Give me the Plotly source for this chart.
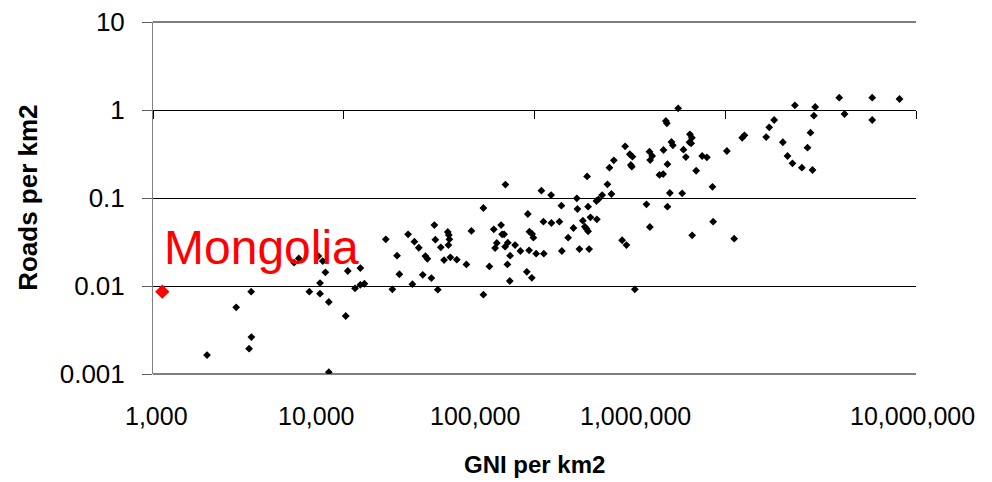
import math
import plotly.graph_objects as go

# ---- data (GNI per km2, roads per km2) ----
gni = [
    1920, 2730, 3190, 3280, 3270, 5490, 5810, 6600, 7360, 7760,
    7510, 7510, 8010, 8350, 8350, 10240, 10500, 11460, 12220, 12220,
    12830, 16610, 19030, 19570, 17980, 21740, 23460, 24740, 26790, 27440,
    22900, 25960, 28800, 31120, 29860, 30220, 32270, 33570, 35110, 35540,
    35790, 35370, 36220, 39140, 43950, 46700, 53970, 53970, 58010, 61170,
    63440, 62140, 66820, 67640, 69290, 70400, 70140, 72440, 74480, 72100,
    74210, 79100, 84350, 92250, 93690, 94030, 97160, 98700, 91140, 96800,
    102000, 111900, 108700, 111400, 122200, 122650, 135100, 138400, 139100, 150100,
    160000, 166700, 167950, 172000, 179200, 183600, 187200, 191000, 191000, 193400,
    188700, 196450, 212300, 211200, 216400, 226300, 241200, 253100, 247100, 260500,
    288000, 303400, 335700, 316100, 326200, 319900, 323800, 386300, 402500, 400600,
    404000, 413900, 474500, 451900, 472600, 497700, 512400, 497700, 298700, 566400,
    488300, 494200, 522400, 531300, 594500, 603900, 621700, 652500, 668400, 649300,
    662800, 703900, 756800, 801000, 857000, 670700, 864200, 1020000, 1114000, 1227000,
    1261000, 1639000, 1700000, 1805000, 2005000, 2120000, 2251000, 2522000, 2867000, 2318000,
    2699000, 2798000, 2916000, 2962000, 3958000, 4219000, 5894000, 5894000, 8196000,
]
roads = [
    0.00164, 0.00573, 0.00194, 0.00263, 0.00861, 0.0184, 0.0206, 0.00861, 0.0219, 0.0192,
    0.0108, 0.00817, 0.0143, 0.00658, 0.00105, 0.00456, 0.0148, 0.00942, 0.0160, 0.0103,
    0.0106, 0.0339, 0.0221, 0.0136, 0.00917, 0.0387, 0.0319, 0.0272, 0.0219, 0.0204,
    0.0105, 0.0134, 0.0123, 0.00908, 0.0493, 0.0336, 0.0275, 0.0197, 0.0411, 0.0380,
    0.0339, 0.0292, 0.0212, 0.0199, 0.0176, 0.0422, 0.0770, 0.00796, 0.0167, 0.0441,
    0.0308, 0.0270, 0.0493, 0.0387, 0.0387, 0.142, 0.0280, 0.0311, 0.0221, 0.0176,
    0.0114, 0.0292, 0.0250, 0.0658, 0.0254, 0.0414, 0.0390, 0.0354, 0.0145, 0.0124,
    0.0233, 0.0233, 0.121, 0.0538, 0.108, 0.0520, 0.0538, 0.0818, 0.0250, 0.0354,
    0.0456, 0.0992, 0.0750, 0.0263, 0.0552, 0.0472, 0.0448, 0.0418, 0.0796, 0.0263,
    0.176, 0.0603, 0.0573, 0.0924, 0.0967, 0.108, 0.143, 0.111, 0.221, 0.268,
    0.0331, 0.0292, 0.00917, 0.314, 0.295, 0.237, 0.227, 0.0848, 0.0468, 0.336,
    0.270, 0.300, 0.351, 0.183, 0.187, 0.242, 0.114, 0.0796, 0.387, 1.045,
    0.750, 0.706, 0.433, 0.397, 0.113, 0.354, 0.292, 0.529, 0.484, 0.430,
    0.418, 0.204, 0.300, 0.290, 0.134, 0.0377, 0.0538, 0.342, 0.0345, 0.484,
    0.516, 0.493, 0.636, 0.770, 0.430, 0.300, 0.248, 0.221, 0.208, 1.131,
    0.373, 0.552, 0.861, 1.082, 1.380, 0.901, 1.380, 0.770, 1.334,
]
highlight_name = "Mongolia"
highlight_gni = [1119]
highlight_roads = [0.00861]

x_tick_values = [1e3, 1e4, 1e5, 1e6, 1e7]
x_tick_labels = ["1,000", "10,000", "100,000", "1,000,000", "10,000,000"]
x_label_pos = [0.005, 0.213, 0.422, 0.632, 0.996]   # paper positions of labels, as drawn
y_tick_values = [10, 1, 0.1, 0.01, 0.001]
y_tick_labels = ["10", "1", "0.1", "0.01", "0.001"]

FONT = "Liberation Sans, Arial, sans-serif"

fig = go.Figure()
fig.add_trace(go.Scatter(
    x=gni, y=roads, mode="markers",
    marker=dict(symbol="diamond", size=6, color="black"),
    showlegend=False, hoverinfo="skip",
))
fig.add_trace(go.Scatter(
    x=highlight_gni, y=highlight_roads, mode="markers",
    marker=dict(symbol="diamond", size=11, color="#ff0000"),
    showlegend=False, hoverinfo="skip",
))

annotations = []
for t, p in zip(x_tick_labels, x_label_pos):
    annotations.append(dict(
        text=t, x=p, y=-0.119, xref="paper", yref="paper",
        xanchor="center", yanchor="middle", showarrow=False,
        font=dict(family=FONT, size=25, color="black"),
    ))
annotations.append(dict(
    text="<b>GNI per km2</b>", x=0.5, y=-0.258, xref="paper", yref="paper",
    xanchor="center", yanchor="middle", showarrow=False,
    font=dict(family=FONT, size=24, color="black"),
))
annotations.append(dict(
    text="<b>Roads per km2</b>", x=-0.164, y=0.5, xref="paper", yref="paper",
    xanchor="center", yanchor="middle", showarrow=False, textangle=-90,
    font=dict(family=FONT, size=26, color="black"),
))
# log axes: annotation positions are given in log10 units
annotations.append(dict(
    text=highlight_name,
    x=math.log10(highlight_gni[0]), y=math.log10(highlight_roads[0]),
    xref="x", yref="y",
    xanchor="left", yanchor="middle", xshift=0, yshift=44, showarrow=False,
    font=dict(family=FONT, size=48, color="#ff0000"),
))

# gridlines at the range ends (top = 10, bottom = 0.001)
shapes = [
    dict(type="line", xref="paper", yref="paper", x0=0, x1=1, y0=1, y1=1,
         line=dict(color="black", width=1), layer="below"),
    dict(type="line", xref="paper", yref="paper", x0=0, x1=1, y0=0, y1=0,
         line=dict(color="black", width=1), layer="below"),
]

fig.update_layout(
    width=992, height=482,
    margin=dict(l=153, r=76, t=22, b=108, autoexpand=False),
    plot_bgcolor="white", paper_bgcolor="white",
    annotations=annotations,
    shapes=shapes,
    xaxis=dict(
        type="log", range=[3, 7], anchor="free", position=0.75,
        showgrid=False, zeroline=False, automargin=False,
        showline=True, linecolor="black", linewidth=1,
        ticks="outside", ticklen=8, tickcolor="black", tickwidth=1,
        tickvals=x_tick_values, showticklabels=False,
    ),
    yaxis=dict(
        type="log", range=[-3, 1], automargin=False,
        showgrid=True, gridcolor="black", gridwidth=1, zeroline=False,
        showline=True, linecolor="#808080", linewidth=1,
        ticks="outside", ticklen=10, tickcolor="#606060", tickwidth=1,
        tickvals=y_tick_values, ticktext=y_tick_labels,
        tickfont=dict(family=FONT, size=26, color="black"),
        ticklabelstandoff=12,
    ),
)

fig.write_html("out.html")
